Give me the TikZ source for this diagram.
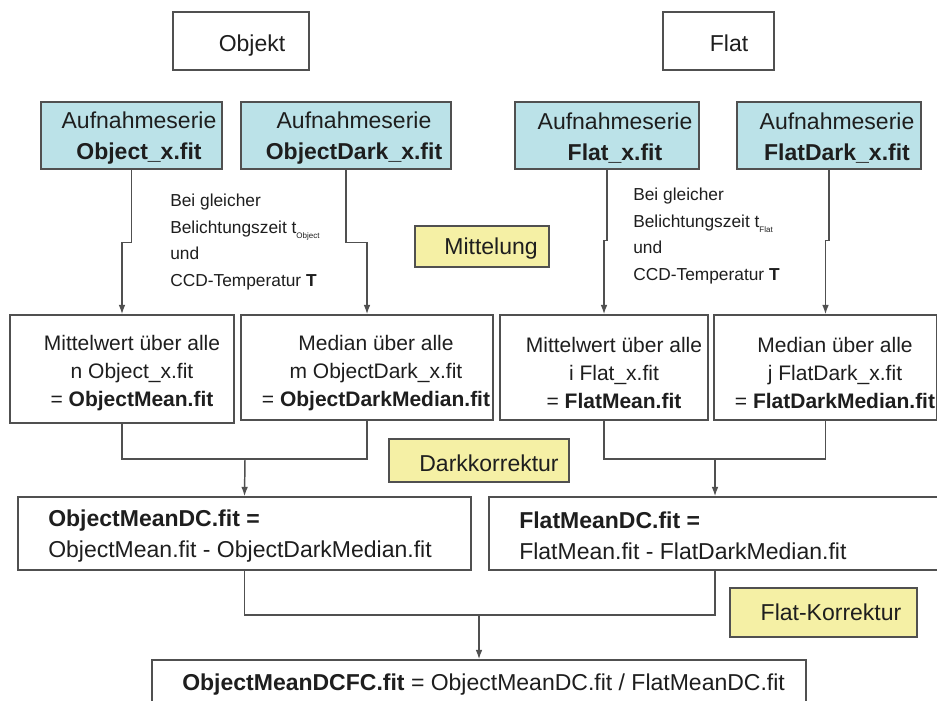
\documentclass[tikz,border=0pt]{standalone}
\usepackage{fontspec}
\setmainfont{Liberation Sans}
\usetikzlibrary{fit,arrows.meta}

\definecolor{seriesfill}{HTML}{BBE2E8}
\definecolor{notefill}{HTML}{F5F0A5}
\definecolor{edge}{HTML}{505050}
\definecolor{ink}{HTML}{1E1E1E}

\newcommand{\subtxt}[1]{\raisebox{-0.55ex}{\fontsize{6}{6}\selectfont #1}}

\tikzset{
  frame/.style={draw=edge, line width=1.1pt, inner sep=0pt, fill=white},
  series/.style={frame, fill=seriesfill},
  note/.style={frame, fill=notefill},
  link/.style={draw=edge, line width=1.1pt},
  flow/.style={link, -{Latex[length=7pt,width=5pt]}},
  big/.style={font=\fontsize{17.25}{23.25}\selectfont, text=ink, inner sep=0pt, align=center},
  mid/.style={font=\fontsize{15.75}{21}\selectfont, text=ink, inner sep=0pt, align=center},
  leftbig/.style={big, align=left, anchor=west},
  small/.style={font=\fontsize{13}{20}\selectfont, text=ink, inner sep=0pt, align=left, anchor=west},
}

\begin{document}
\begin{tikzpicture}[x=0.75pt,y=-0.75pt]
\clip (0,0) rectangle (937,700);
\fill[white] (0,0) rectangle (937,700);

% --- headings
\node[frame, fit={(173,12)(309,70)}] (hobj) {};
\node[frame, fit={(663,12)(774,70)}] (hflat) {};
\node[big, anchor=base] at (252,51) {Objekt};
\node[big, anchor=base] at (729,51) {Flat};

% --- image series
\node[series, fit={(41,102)(222,169)}] (sobj) {};
\node[series, fit={(241,102)(451,169)}] (sobjd) {};
\node[series, fit={(515,102)(699,169)}] (sflat) {};
\node[series, fit={(737,102)(921,169)}] (sflatd) {};
\node[big] at (139,138) {Aufnahmeserie\\\textbf{Object\_x.fit}};
\node[big] at (354,138) {Aufnahmeserie\\\textbf{ObjectDark\_x.fit}};
\node[big] at (615,138) {Aufnahmeserie\\\textbf{Flat\_x.fit}};
\node[big] at (837,138) {Aufnahmeserie\\\textbf{FlatDark\_x.fit}};

% --- conditions
\node[small] at (170,242) {Bei gleicher\\Belichtungszeit t\subtxt{Object}\\und\\CCD-Temperatur \textbf{T}};
\node[small] at (633,236) {Bei gleicher\\Belichtungszeit t\subtxt{Flat}\\und\\CCD-Temperatur \textbf{T}};

% --- step labels
\node[note, fit={(415,226)(549,267)}] (nmit) {};
\node[big] at (491,249) {Mittelung};
\node[note, fit={(389,439)(569,482)}] (ndark) {};
\node[big] at (489,463) {Darkkorrektur};
\node[note, fit={(730,588)(917,637)}] (nflat) {};
\node[big] at (831,612) {Flat-Korrektur};

% --- combined frames
\node[frame, fit={(10,315)(234,423)}] (mobj) {};
\node[frame, fit={(241,315)(493,420)}] (mobjd) {};
\node[frame, fit={(500,315)(708,420)}] (mflat) {};
\node[frame, fit={(714,315)(937,420)}] (mflatd) {};
\node[mid] at (132,373) {Mittelwert über alle\\n Object\_x.fit\\= \textbf{ObjectMean.fit}};
\node[mid] at (376,373) {Median über alle\\m ObjectDark\_x.fit\\= \textbf{ObjectDarkMedian.fit}};
\node[mid] at (614,373) {Mittelwert über alle\\i Flat\_x.fit\\= \textbf{FlatMean.fit}};
\node[mid] at (835,373) {Median über alle\\j FlatDark\_x.fit\\= \textbf{FlatDarkMedian.fit}};

% --- dark corrected frames
\node[frame, fit={(18,497)(471,570)}] (dobj) {};
\node[frame, fit={(489,497)(941,570)}] (dflat) {};
\node[leftbig] at (48,536) {\textbf{ObjectMeanDC.fit =}\\ObjectMean.fit - ObjectDarkMedian.fit};
\node[leftbig] at (519,536) {\textbf{FlatMeanDC.fit =}\\FlatMean.fit - FlatDarkMedian.fit};

% --- result
\node[frame, fit={(152,660)(806,715)}] (res) {};
\node[big, anchor=west] at (182,685) {\textbf{ObjectMeanDCFC.fit} = ObjectMeanDC.fit / FlatMeanDC.fit};

% --- connectors: series to combined frames
\draw[flow] (sobj.south) -- ++(0,73) -| (mobj.north);
\draw[flow] (sobjd.south) -- ++(0,73) -| (mobjd.north);
\draw[flow] (sflat.south) -- ++(0,71) -| (mflat.north);
\draw[flow] (sflatd.south) -- ++(0,71) -| (mflatd.north);

% --- connectors: combined frames to dark correction
\coordinate (jobj) at (245,459);
\coordinate (jflat) at (715,459);
\draw[link] (mobj.south) |- (jobj) -| (mobjd.south);
\draw[flow] (jobj) -- (dobj.north);
\draw[link] (mflat.south) |- (jflat) -| (mflatd.south);
\draw[flow] (jflat) -- (dflat.north);

% --- connectors: dark corrected frames to result
\coordinate (jres) at (479,615);
\draw[link] (dobj.south) |- (jres) -| (dflat.south);
\draw[flow] (jres) -- (res.north);

\end{tikzpicture}
\end{document}
